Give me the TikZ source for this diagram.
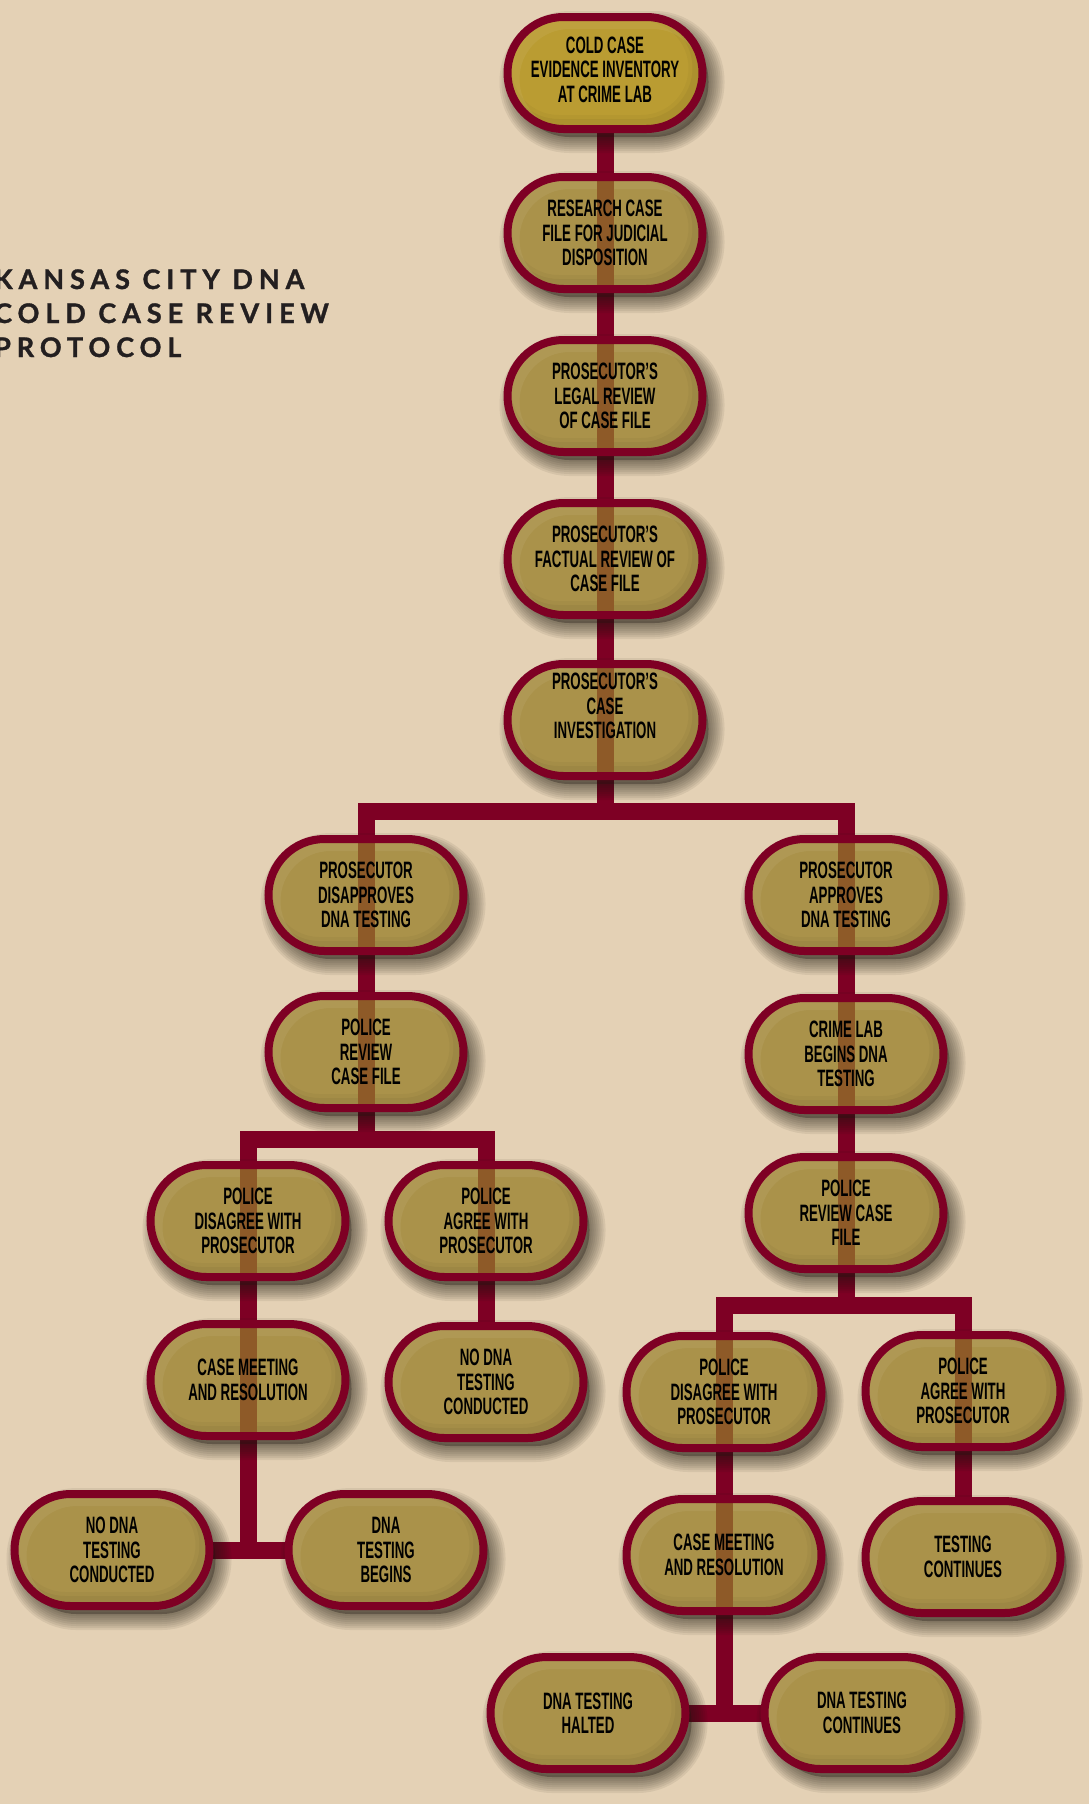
\documentclass[tikz,border=0pt]{standalone}
\usepackage{fontspec}
\usetikzlibrary{shapes.misc}
\newfontfamily\boxfont{Liberation Sans Bold}[FakeStretch=0.56]
\newfontfamily\titlefont{Lato Bold}[LetterSpace=22,FakeBold=1.2]
\definecolor{bgcol}{RGB}{228,209,181}
\definecolor{maroon}{RGB}{126,0,36}
\definecolor{olivefill}{RGB}{170,146,74}
\definecolor{goldfill}{RGB}{186,156,50}
\definecolor{stripecol}{RGB}{142,90,40}
\definecolor{titlecol}{RGB}{35,31,32}
\definecolor{shadowcol}{RGB}{30,25,15}
\pgfdeclarelayer{bglayer}
\pgfdeclarelayer{connlayer}
\pgfdeclarelayer{shadowlayer}
\pgfsetlayers{bglayer,connlayer,shadowlayer,main}
\newcommand\pillfx{%
  \foreach \w/\o in {10/0.04,18/0.03}{
  \draw[black, draw opacity=\o, line width=\w pt, rounded corners=56pt]
    ([shift={(-5pt,5pt)}]path picture bounding box.south west) rectangle
    ([shift={(-5pt,5pt)}]path picture bounding box.north east);}
  \draw[white, draw opacity=0.06, line width=12pt, rounded corners=56pt]
    ([shift={(6pt,-6pt)}]path picture bounding box.south west) rectangle
    ([shift={(6pt,-6pt)}]path picture bounding box.north east);}
\newcommand\pillstripe{%
  \fill[stripecol]
    ([xshift=-8.5pt,yshift=-4pt]path picture bounding box.north) rectangle
    ([xshift=8.5pt,yshift=4pt]path picture bounding box.south);}
\tikzset{
  pill/.style={rounded rectangle, minimum width=195pt, minimum height=112pt,
    inner sep=0pt, line width=8pt, draw=maroon, fill=olivefill,
    font=\boxfont\fontsize{23.7}{24.5}\selectfont, align=center, text=black,
    path picture={\pillfx}},
  thru/.style={pill, path picture={\pillfx\pillstripe}},
  link/.style={line width=17pt, draw=maroon, line join=miter},
  ttl/.style={anchor=base west, inner sep=0pt, text=titlecol,
    font=\titlefont\fontsize{27}{34}\selectfont},
  shade ring/.style={draw=shadowcol, draw opacity=0.075, line width=#1, rounded corners=54pt}
}
\begin{document}
\begin{tikzpicture}[x=1pt,y=-1pt]
\useasboundingbox (0,0) rectangle (1089,1804);
\begin{pgfonlayer}{bglayer}
\fill[bgcol] (0,0) rectangle (1089,1804);
\end{pgfonlayer}

\node[ttl] (t1) at (-6,289) {KANSAS CITY DNA};
\node[ttl] (t2) at (-6,323) {COLD CASE REVIEW};
\node[ttl] (t3) at (-6,357) {PROTOCOL};

\node[pill, fill=goldfill] (n1) at (605,73) {COLD CASE\\EVIDENCE INVENTORY\\AT CRIME LAB\\[-17.5pt]\mbox{}};
\node[thru] (n2) at (605,233) {RESEARCH CASE\\FILE FOR JUDICIAL\\DISPOSITION};
\node[thru] (n3) at (605,396) {PROSECUTOR’S\\LEGAL REVIEW\\OF CASE FILE};
\node[thru] (n4) at (605,559) {PROSECUTOR’S\\FACTUAL REVIEW OF\\CASE FILE};
\node[thru] (n5) at (605,720) {PROSECUTOR’S\\CASE\\INVESTIGATION\\[3.5pt]\mbox{}};

\node[thru] (n6L) at (366,895) {PROSECUTOR\\DISAPPROVES\\DNA TESTING};
\node[thru] (n6R) at (846,895) {PROSECUTOR\\APPROVES\\DNA TESTING};
\node[thru] (n7L) at (366,1052) {POLICE\\REVIEW\\CASE FILE};
\node[thru] (n7R) at (846,1054) {CRIME LAB\\BEGINS DNA\\TESTING};
\node[thru] (n8R) at (846,1213) {POLICE\\REVIEW CASE\\FILE};

\node[thru] (n8LL) at (248,1221) {POLICE\\DISAGREE WITH\\PROSECUTOR};
\node[thru] (n8LR) at (486,1221) {POLICE\\AGREE WITH\\PROSECUTOR};
\node[thru] (n9LL) at (248,1380) {CASE MEETING\\AND RESOLUTION};
\node[pill] (n9LR) at (486,1382) {NO DNA\\TESTING\\CONDUCTED};
\node[pill] (n10LL) at (112,1550) {NO DNA\\TESTING\\CONDUCTED};
\node[pill] (n10LR) at (386,1550) {DNA\\TESTING\\BEGINS};

\node[thru] (n9RL) at (724,1392) {POLICE\\DISAGREE WITH\\PROSECUTOR};
\node[thru] (n9RR) at (963,1391) {POLICE\\AGREE WITH\\PROSECUTOR};
\node[thru] (n10RL) at (724,1555) {CASE MEETING\\AND RESOLUTION};
\node[pill] (n10RR) at (963,1557) {TESTING\\CONTINUES};
\node[pill] (n11L) at (588,1713) {DNA TESTING\\HALTED};
\node[pill] (n11R) at (862,1713) {DNA TESTING\\CONTINUES};

\coordinate (b1) at (605,811);
\coordinate (b2) at (366,1139);
\coordinate (b3) at (846,1305);
\coordinate (b4) at (248,1550);
\coordinate (b5) at (724,1712);

\begin{pgfonlayer}{shadowlayer}
\foreach \n in {n1,n2,n3,n4,n5,n6L,n6R,n7L,n7R,n8R,n8LL,n8LR,n9LL,n9LR,n10LL,n10LR,n9RL,n9RR,n10RL,n10RR,n11L,n11R}{
  \fill[shadowcol, fill opacity=0.33, rounded corners=54pt]
    ([shift={(-89.5pt,46pt)}]\n.center) rectangle ([shift={(103.5pt,-64pt)}]\n.center);
  \foreach \w in {4,8,12,16,20,24,28,32}{
    \draw[shade ring=\w pt]
      ([shift={(-89.5pt,46pt)}]\n.center) rectangle ([shift={(103.5pt,-64pt)}]\n.center);
  }
}
\end{pgfonlayer}

\begin{pgfonlayer}{connlayer}
\draw[link] (n1.center) -- (n2.center) -- (n3.center) -- (n4.center) -- (n5.center) -- (b1);
\draw[link] (n6L.center) |- (b1) -| (n6R.center);
\draw[link] (n6L.center) -- (n7L.center) -- (b2);
\draw[link] (n8LL.center) |- (b2) -| (n8LR.center);
\draw[link] (n8LL.center) -- (n9LL.center) -- (b4);
\draw[link] (n8LR.center) -- (n9LR.center);
\draw[link] (n10LL.center) -- (n10LR.center);
\draw[link] (n6R.center) -- (n7R.center) -- (n8R.center) -- (b3);
\draw[link] (n9RL.center) |- (b3) -| (n9RR.center);
\draw[link] (n9RL.center) -- (n10RL.center) -- (b5);
\draw[link] (n9RR.center) -- (n10RR.center);
\draw[link] (n11L.center) -- (n11R.center);
\end{pgfonlayer}
\end{tikzpicture}
\end{document}
